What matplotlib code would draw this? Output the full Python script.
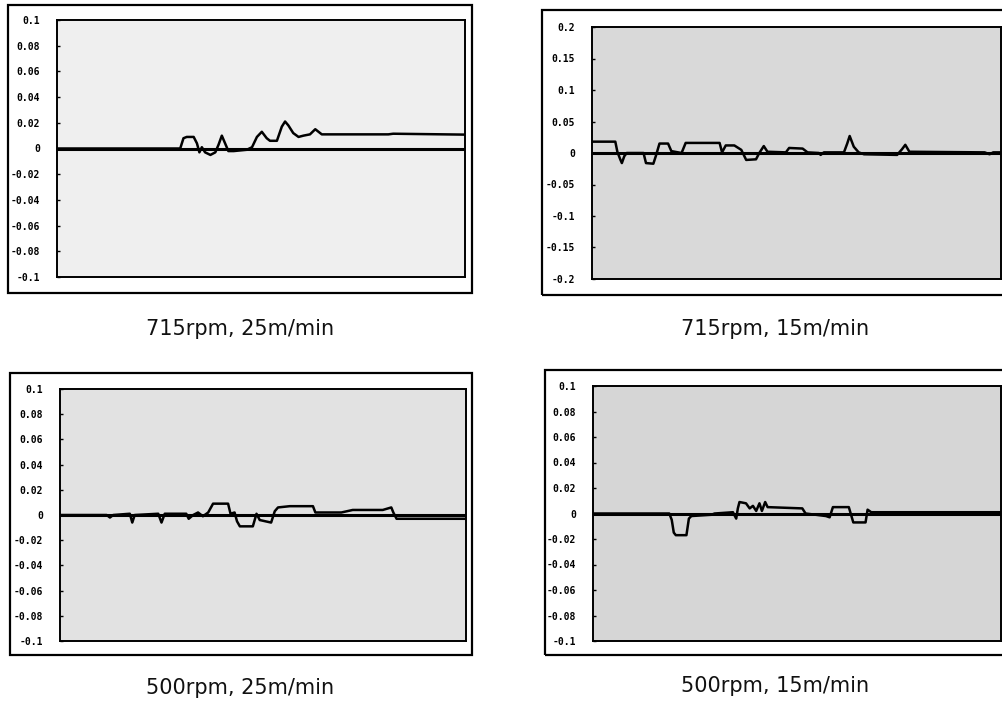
import numpy as np
import matplotlib
matplotlib.use("Agg")
import matplotlib.pyplot as plt
from matplotlib.patches import Rectangle

# x is position along the record in percent of the plotted span
x_a = [0, 30.2, 31.0, 31.8, 33.5, 34.3, 34.9, 35.5, 36.3, 37.6, 38.8, 39.6, 40.4, 41.2, 42.0,
       43.3, 46.5, 47.8, 49.0, 50.2, 51.4, 52.2, 53.9, 55.1, 55.9, 56.7, 57.9, 59.2, 60.4,
       62.0, 63.3, 64.1, 64.9, 81.2, 82.4, 100]
y_a = [0, 0, 0.008, 0.009, 0.009, 0.004, -0.003, 0.001, -0.003, -0.005, -0.003, 0.003, 0.010,
       0.004, -0.002, -0.002, -0.001, 0.001, 0.009, 0.013, 0.008, 0.006, 0.006, 0.017, 0.021,
       0.018, 0.012, 0.009, 0.010, 0.011, 0.015, 0.013, 0.011, 0.011, 0.0115, 0.0108]

x_b = [0, 5.7, 6.2, 6.9, 7.3, 7.9, 8.5, 12.6, 13.2, 15.0, 15.6, 16.5, 18.6, 19.4, 21.9, 22.9,
       31.2, 31.8, 32.7, 34.8, 36.5, 37.7, 40.1, 40.9, 42.0, 42.9, 47.4, 48.2, 51.5, 52.7,
       55.5, 55.9, 56.7, 61.6, 62.4, 63.0, 64.0, 65.2, 66.5, 74.6, 75.8, 76.6, 77.6, 96.0,
       97.2, 98.1, 100]
y_b = [0.018, 0.018, 0.002, -0.010, -0.016, -0.005, 0, 0, -0.016, -0.017, -0.005, 0.015, 0.015,
       0.003, 0, 0.016, 0.016, 0.001, 0.012, 0.012, 0.005, -0.011, -0.010, 0, 0.011, 0.002,
       0.001, 0.008, 0.007, 0.001, 0.000, -0.003, 0.001, 0.001, 0.015, 0.027, 0.010, 0.001,
       -0.002, -0.003, 0.006, 0.013, 0.002, 0.001, -0.002, 0.001, 0.001]

x_c = [0, 11.5, 12.3, 13.1, 17.2, 17.8, 18.4, 24.2, 25.0, 25.8, 31.1, 31.7, 32.8, 34.0, 35.2,
       36.5, 37.7, 41.4, 42.0, 43.0, 43.6, 44.3, 47.5, 48.4, 49.2, 52.0, 52.9, 53.7, 56.6,
       62.3, 62.9, 69.3, 72.1, 79.5, 81.6, 82.1, 82.9, 100]
y_c = [0, 0, -0.002, 0, 0.001, -0.006, 0, 0.001, -0.006, 0.001, 0.001, -0.003, 0.000, 0.002,
       -0.001, 0.002, 0.009, 0.009, 0.001, 0.002, -0.005, -0.009, -0.009, 0.001, -0.004,
       -0.006, 0.003, 0.006, 0.007, 0.007, 0.002, 0.002, 0.004, 0.004, 0.006, 0.002, -0.003,
       -0.003]

x_d = [0, 18.7, 19.3, 19.8, 20.3, 22.9, 23.5, 24.1, 29.0, 29.8, 34.3, 35.1, 35.5, 35.9, 37.5,
       38.4, 39.2, 40.0, 40.8, 41.4, 42.2, 42.8, 51.3, 52.1, 57.1, 58.0, 58.8, 62.7, 63.8,
       66.8, 67.3, 68.2, 100]
y_d = [0, 0, -0.005, -0.015, -0.017, -0.017, -0.004, -0.002, -0.001, 0.000, 0.001, -0.004,
       0.004, 0.009, 0.008, 0.004, 0.006, 0.002, 0.008, 0.002, 0.009, 0.005, 0.004, 0.000,
       -0.002, -0.003, 0.005, 0.005, -0.007, -0.007, 0.003, 0.001, 0.001]

titles = ["715rpm, 25m/min", "715rpm, 15m/min", "500rpm, 25m/min", "500rpm, 15m/min"]
ticks_01 = [0.1, 0.08, 0.06, 0.04, 0.02, 0, -0.02, -0.04, -0.06, -0.08, -0.1]
labels_01 = ["0.1", "0.08", "0.06", "0.04", "0.02", "0", "-0.02", "-0.04", "-0.06", "-0.08", "-0.1"]
ticks_02 = [0.2, 0.15, 0.1, 0.05, 0, -0.05, -0.1, -0.15, -0.2]
labels_02 = ["0.2", "0.15", "0.1", "0.05", "0", "-0.05", "-0.1", "-0.15", "-0.2"]

W, H = 1003, 702
fig = plt.figure(figsize=(W / 100, H / 100), dpi=100)
fig.patch.set_facecolor("white")

def px_rect(x0, y0, x1, y1):
    # pixel box (top-left origin) -> figure fraction [left, bottom, width, height]
    return [x0 / W, (H - y1) / H, (x1 - x0) / W, (y1 - y0) / H]

panels = [
    (x_a, y_a, (57, 20, 465, 277), (8, 5, 472, 293), 0.1, ticks_01, labels_01, "#efefef", (240, 329)),
    (x_b, y_b, (592, 27, 1001, 279), (542, 10, 1010, 295), 0.2, ticks_02, labels_02, "#d9d9d9", (775, 329)),
    (x_c, y_c, (60, 389, 466, 641), (10, 373, 472, 655), 0.1, ticks_01, labels_01, "#e2e2e2", (240, 688)),
    (x_d, y_d, (593, 386, 1001, 641), (545, 370, 1010, 655), 0.1, ticks_01, labels_01, "#d6d6d6", (775, 686)),
]

for i, (xs, ys, box, frame, lim, ticks, labels, face, tpos) in enumerate(panels):
    fl = px_rect(*frame)
    fig.patches.append(Rectangle((fl[0], fl[1]), fl[2], fl[3], transform=fig.transFigure,
                                 fill=False, edgecolor="black", linewidth=1.6, zorder=0))
    ax = fig.add_axes(px_rect(*box))
    ax.set_facecolor(face)
    ax.plot([0, 100], [0, 0], color="black", linewidth=2.2, solid_capstyle="butt")
    ax.plot(xs, ys, color="black", linewidth=1.8)
    ax.set_xlim(0, 100)
    ax.set_ylim(-lim, lim)
    ax.set_xticks([])
    ax.set_yticks(ticks)
    ax.set_yticklabels(labels, fontsize=7, fontweight="bold", family="DejaVu Sans Mono")
    ax.tick_params(axis="y", direction="in", length=2, width=1, pad=12)
    for s in ax.spines.values():
        s.set_linewidth(1.4)
        s.set_color("black")
    fig.text(tpos[0] / W, 1 - tpos[1] / H, titles[i], ha="center", va="center",
             fontsize=15, family="DejaVu Sans", color="#111111")

fig.savefig("out.png", dpi=100)
